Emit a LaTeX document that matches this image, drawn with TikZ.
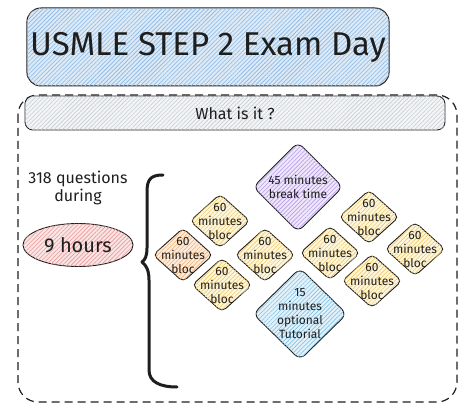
\documentclass[tikz,border=0pt]{standalone}
\usepackage{fontspec}
\setmainfont{Fira Sans}
\usetikzlibrary{shapes.geometric,patterns.meta}
\definecolor{ink}{HTML}{1E1E1E}
\definecolor{titlefill}{HTML}{DCE9F6}\definecolor{titlehatch}{HTML}{8DB8E0}
\definecolor{greyfill}{HTML}{F3F4F6}\definecolor{greyhatch}{HTML}{C9CED3}
\definecolor{pinkfill}{HTML}{FBE4E4}\definecolor{pinkhatch}{HTML}{E69C9C}
\definecolor{yelfill}{HTML}{FFF7DC}\definecolor{yelhatch}{HTML}{EFCB72}
\definecolor{orafill}{HTML}{FFEBDA}\definecolor{orahatch}{HTML}{F0B27A}
\definecolor{purfill}{HTML}{EFE7FC}\definecolor{purhatch}{HTML}{B69DE6}
\definecolor{blufill}{HTML}{E2F1FA}\definecolor{bluhatch}{HTML}{86C3E3}
\tikzset{
  hatch/.style 2 args={fill=#1, postaction={pattern={Lines[angle=45,distance=3pt,line width=.6pt]}, pattern color=#2}},
  blocbox/.style={draw=ink, line width=.9pt, shape=diamond, rounded corners=5pt, inner sep=0pt, minimum width=60pt, minimum height=54pt},
  bigbox/.style={draw=ink, line width=.9pt, shape=diamond, rounded corners=7pt, inner sep=0pt, minimum width=92pt, minimum height=92pt},
  bloctxt/.style={align=center, font=\fontsize{12}{14}\selectfont, text=ink},
}
\begin{document}
\begin{tikzpicture}[x=1pt,y=-1pt]
\useasboundingbox (0,0) rectangle (474,417);

% title
\node(Title)[draw=ink, line width=1pt, rounded corners=14pt, minimum width=360pt, minimum height=78pt, hatch={titlefill}{titlehatch}, font=\fontsize{33}{36}\selectfont, text=ink] at (208,47) {USMLE STEP 2 Exam Day};

% frame
\draw[ink, line width=1.2pt, dash pattern=on 8pt off 5pt, rounded corners=20pt] (18,95) rectangle (457,402);
\node(What)[draw=ink, line width=.9pt, rounded corners=8pt, minimum width=420pt, minimum height=34pt, hatch={greyfill}{greyhatch}, font=\fontsize{16}{18}\selectfont, text=ink] at (235,113) {What is it ?};

% left column
\node(Quest)[align=center, font=\fontsize{16}{18}\selectfont, text=ink] at (78,188) {318 questions\\during};
\node(Hours)[draw=ink, line width=.9pt, ellipse, minimum width=110pt, minimum height=43pt, hatch={pinkfill}{pinkhatch}, font=\fontsize{20}{22}\selectfont, text=ink] at (78,245) {9 hours};

% brace
\draw[ink, line width=3pt, line cap=round, line join=round] (163,175) .. controls (150,175) and (147,180) .. (147,192) -- (147,248) .. controls (147,256) and (145,260) .. (142,262) .. controls (146,265) and (149,270) .. (149,280) -- (149,370) .. controls (149,382) and (160,387) .. (177,387);

% blocs
\node(Break)[bigbox, minimum width=90pt, minimum height=90pt, hatch={purfill}{purhatch}, label={[bloctxt]center:{45 minutes\\break time}}] at (298,187) {};
\node(Tuto)[bigbox, minimum width=94pt, hatch={blufill}{bluhatch}, label={[bloctxt]center:{15\\minutes\\optional\\Tutorial}}] at (300,314) {};
\node(B1)[blocbox, hatch={yelfill}{yelhatch}, label={[bloctxt]center:{60\\minutes\\bloc}}] at (220,221) {};
\node(B2)[blocbox, hatch={orafill}{orahatch}, label={[bloctxt]center:{60\\minutes\\bloc}}] at (183,255) {};
\node(B3)[blocbox, hatch={yelfill}{yelhatch}, label={[bloctxt]center:{60\\minutes\\bloc}}] at (222,285) {};
\node(B4)[blocbox, hatch={yelfill}{yelhatch}, label={[bloctxt]center:{60\\minutes\\bloc}}] at (265,255) {};
\node(B5)[blocbox, hatch={yelfill}{yelhatch}, label={[bloctxt]center:{60\\minutes\\bloc}}] at (330,253) {};
\node(B6)[blocbox, hatch={yelfill}{yelhatch}, label={[bloctxt]center:{60\\minutes\\bloc}}] at (369,217) {};
\node(B7)[blocbox, hatch={yelfill}{yelhatch}, label={[bloctxt]center:{60\\minutes\\bloc}}] at (415,249) {};
\node(B8)[blocbox, hatch={yelfill}{yelhatch}, label={[bloctxt]center:{60\\minutes\\bloc}}] at (372,281) {};
\end{tikzpicture}
\end{document}
